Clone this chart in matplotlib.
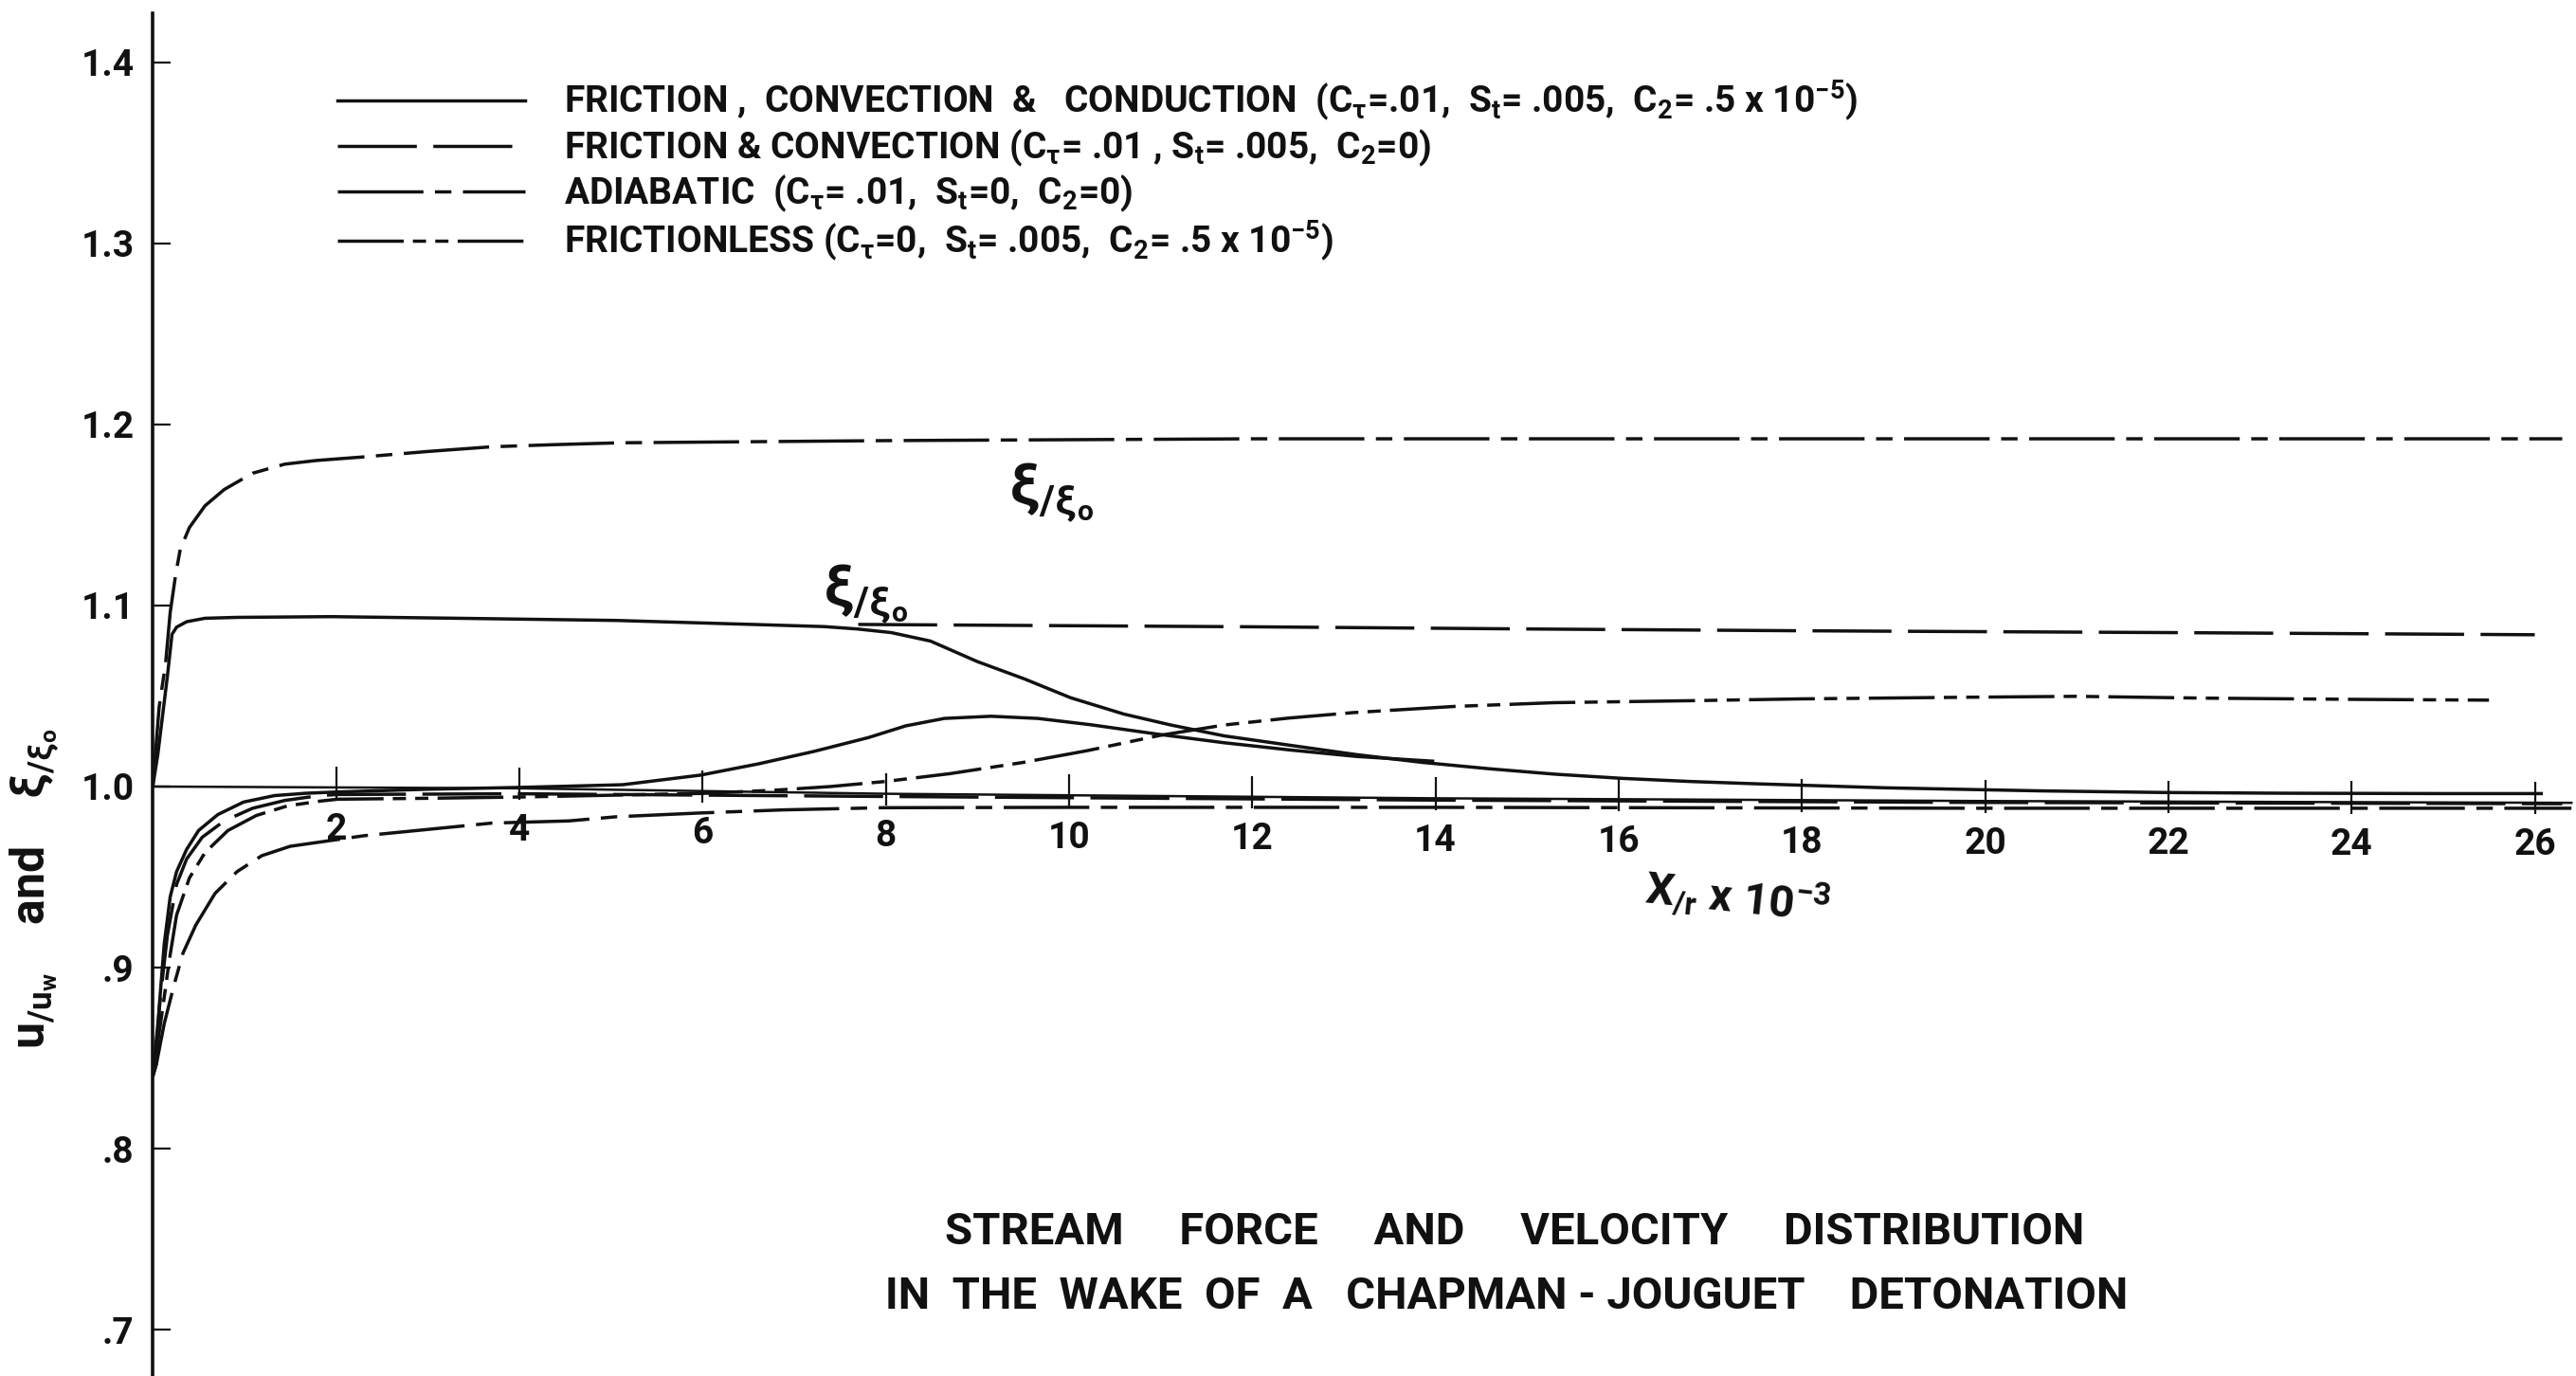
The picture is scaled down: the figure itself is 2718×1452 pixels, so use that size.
import numpy as np
import matplotlib
matplotlib.use('Agg')
import matplotlib.pyplot as plt
from matplotlib import font_manager

# Fuente parecida al rotulado a mano
nombres = {f.name for f in font_manager.fontManager.ttflist}
fuente = 'DejaVu Sans'
for cand in ['Roboto', 'Liberation Sans Narrow']:
    if cand in nombres:
        fuente = cand
        break
plt.rcParams['font.family'] = [fuente, 'DejaVu Sans']
plt.rcParams['font.weight'] = 'bold'
plt.rcParams['mathtext.fontset'] = 'custom'
plt.rcParams['mathtext.rm'] = fuente + ':bold'
plt.rcParams['mathtext.it'] = fuente + ':italic:bold'
plt.rcParams['mathtext.default'] = 'regular'

# ---- datos ----
# xi/xi0 (fuerza de corriente)
x_xi_adiabatico = [0.0, 0.07, 0.14, 0.19, 0.25, 0.30, 0.40, 0.57, 0.78, 1.09, 1.44, 1.78,
                   2.3, 3.0, 3.7, 4.4, 5.1, 8.0, 12.0, 20.0, 26.3]
xi_adiabatico = [1.0, 1.044, 1.068, 1.096, 1.117, 1.131, 1.143, 1.155, 1.164, 1.173, 1.178, 1.180,
                 1.182, 1.185, 1.1876, 1.1888, 1.1898, 1.191, 1.192, 1.192, 1.192]

x_xi_fcc = [0.0, 0.056, 0.16, 0.21, 0.26, 0.37, 0.57, 0.92, 1.95, 3.33, 5.06, 6.61, 7.33, 7.69,
            8.06, 8.49, 9.0, 9.51, 10.02, 10.6, 11.11, 11.69, 12.41, 13.14, 13.86, 14.59, 15.31,
            16.04, 16.77, 17.5, 18.9, 20.6, 21.95, 23.25, 25.0, 26.07]
xi_fcc = [1.0, 1.018, 1.061, 1.084, 1.088, 1.091, 1.0929, 1.0934, 1.0938, 1.0929, 1.0917, 1.0894,
          1.0883, 1.087, 1.085, 1.0803, 1.069, 1.0595, 1.049, 1.040, 1.034, 1.028, 1.0228, 1.0176,
          1.0133, 1.0098, 1.0068, 1.0045, 1.0028, 1.0015, 0.9993, 0.9976, 0.9967, 0.9963, 0.9961,
          0.9961]

x_xi_fc = [7.7, 10.0, 12.0, 15.0, 18.0, 22.0, 26.0]
xi_fc = [1.0895, 1.0888, 1.0882, 1.087, 1.086, 1.085, 1.0838]

# u/uw (velocidad)
x_u_fcc = [0.0, 0.04, 0.07, 0.125, 0.19, 0.26, 0.37, 0.5, 0.71, 0.99, 1.33, 1.68, 2.02, 3.0, 4.0,
           4.54, 5.13, 5.98, 6.61, 7.21, 7.81, 8.22, 8.64, 9.15, 9.66, 10.24, 10.97, 11.69, 12.41,
           13.14, 13.97]
u_fcc = [0.840, 0.847, 0.878, 0.913, 0.939, 0.953, 0.9653, 0.9757, 0.9845, 0.9914, 0.995, 0.9963,
         0.997, 0.9985, 0.9995, 1.0002, 1.001, 1.0063, 1.0125, 1.0193, 1.027, 1.0335, 1.0376,
         1.0388, 1.0376, 1.0341, 1.0289, 1.0242, 1.0202, 1.0166, 1.014]

x_u_fc = [0.0, 0.09, 0.16, 0.26, 0.37, 0.54, 0.78, 1.09, 1.44, 1.82, 2.02, 4.0, 8.0, 14.0, 20.0, 26.3]
u_fc = [0.840, 0.887, 0.918, 0.946, 0.960, 0.972, 0.981, 0.988, 0.9923, 0.995, 0.9956, 0.996,
        0.9945, 0.9925, 0.9912, 0.9905]

x_u_adiabatico = [0.0, 0.04, 0.125, 0.23, 0.33, 0.47, 0.68, 0.92, 1.19, 1.5, 1.82, 2.3, 3.0, 3.7,
                  4.54, 5.06, 5.98, 6.88, 7.97, 10.0, 14.0, 20.0, 26.4]
u_adiabatico = [0.840, 0.8468, 0.869, 0.890, 0.908, 0.9235, 0.941, 0.953, 0.9618, 0.967, 0.9693,
                0.9728, 0.9763, 0.9798, 0.981, 0.9833, 0.9854, 0.9871, 0.9883, 0.9885, 0.9885,
                0.988, 0.988]

x_u_sin_friccion = [0.0, 0.11, 0.18, 0.26, 0.40, 0.57, 0.82, 1.13, 1.47, 1.82, 2.02, 3.0, 4.0, 5.0,
                    6.0, 6.8, 7.4, 8.0, 8.7, 9.5, 10.2, 11.0, 11.7, 12.4, 13.1, 14.2, 15.3, 16.8,
                    18.0, 19.8, 21.0, 22.4, 24.1, 25.5]
u_sin_friccion = [0.840, 0.878, 0.904, 0.929, 0.9495, 0.9635, 0.9757, 0.984, 0.9893, 0.9919, 0.993,
                  0.9935, 0.9942, 0.9952, 0.9962, 0.998, 1.0, 1.0028, 1.0071, 1.0133, 1.0198,
                  1.0283, 1.034, 1.0378, 1.0408, 1.0442, 1.0463, 1.0474, 1.0484, 1.0493, 1.0498,
                  1.0488, 1.0481, 1.0477]

# linea de referencia (eje x dibujado a mano, algo inclinado)
eje_x = [0.0, 4.0, 8.0, 14.0, 20.0, 26.4]
eje_y = [1.0, 0.999, 0.996, 0.9935, 0.992, 0.991]
marcas_x = [2, 4, 6, 8, 10, 12, 14, 16, 18, 20, 22, 24, 26]

marcas_y = [0.7, 0.8, 0.9, 1.0, 1.1, 1.2, 1.3, 1.4]
etiquetas_y = ['.7', '.8', '.9', '1.0', '1.1', '1.2', '1.3', '1.4']

etiquetas_leyenda = [
    r'FRICTION ,  CONVECTION  &   CONDUCTION  ($C_\tau$=.01,  $S_t$= .005,  $C_2$= .5 x 10$^{-5}$)',
    r'FRICTION & CONVECTION ($C_\tau$= .01 , $S_t$= .005,  $C_2$=0)',
    r'ADIABATIC  ($C_\tau$= .01,  $S_t$=0,  $C_2$=0)',
    r'FRICTIONLESS ($C_\tau$=0,  $S_t$= .005,  $C_2$= .5 x 10$^{-5}$)',
]

# estilos de linea
continua = '-'
raya_larga = (0, (24, 5))
raya_punto = (0, (26, 3.5, 5, 3.5))
raya_dos_puntos = (0, (20, 2.8, 4, 2.8, 4, 2.8))

negro = '#111111'
lw = 2.5

fig = plt.figure(figsize=(27.18, 14.52), dpi=100)
ax = fig.add_axes([0.0593, 0.0, 0.9407, 1.0])
ax.set_xlim(0, 26.45)
ax.set_ylim(0.6745, 1.4343)

l1, = ax.plot(x_xi_fcc, xi_fcc, color=negro, lw=lw, ls=continua)
ax.plot(x_u_fcc, u_fcc, color=negro, lw=lw, ls=continua)
l2, = ax.plot(x_xi_fc, xi_fc, color=negro, lw=lw, ls=raya_larga)
ax.plot(x_u_fc, u_fc, color=negro, lw=lw, ls=raya_larga)
l3, = ax.plot(x_xi_adiabatico, xi_adiabatico, color=negro, lw=lw, ls=raya_punto)
ax.plot(x_u_adiabatico, u_adiabatico, color=negro, lw=lw, ls=raya_punto)
l4, = ax.plot(x_u_sin_friccion, u_sin_friccion, color=negro, lw=lw, ls=raya_dos_puntos)

# eje x como linea de referencia con sus marcas
ax.plot(eje_x, eje_y, color=negro, lw=1.8)
base = np.interp(marcas_x, eje_x, eje_y)
ax.vlines(marcas_x, base - 0.0065, base + 0.0115, color=negro, lw=1.6)
for xm, yb in zip(marcas_x, base):
    ax.text(xm, yb - 0.0235, str(xm), ha='center', va='center', fontsize=28, color=negro)

# eje y
for lado in ['top', 'right', 'bottom']:
    ax.spines[lado].set_visible(False)
ax.spines['left'].set_linewidth(2.6)
ax.spines['left'].set_color(negro)
ax.spines['left'].set_bounds(0.6745, 1.427)
ax.set_xticks([])
ax.set_yticks(marcas_y)
ax.set_yticklabels(etiquetas_y)
ax.tick_params(axis='y', direction='in', length=14, width=1.6, pad=14, labelsize=28,
               colors=negro)

# leyenda
ax.legend([l1, l2, l3, l4], etiquetas_leyenda, loc='upper left',
          bbox_to_anchor=(0.131, 0.943), bbox_transform=fig.transFigure,
          frameon=False, fontsize=28, handlelength=5.1, handletextpad=1.05,
          labelspacing=0.12, borderpad=0, borderaxespad=0, labelcolor=negro)

# rotulos
ax.text(9.81, 1.162, r'$\xi_{/\xi_o}$', fontsize=44, ha='center', va='center', color=negro)
ax.text(7.78, 1.106, r'$\xi_{/\xi_o}$', fontsize=44, ha='center', va='center', color=negro)
ax.text(17.3, 0.9385, r'$X_{/r}$ x 10$^{-3}$', fontsize=34, ha='center', va='center',
        rotation=-6, color=negro)
fig.text(0.0135, 0.354, r'$u_{/u_w}$    and    $\xi_{/\xi_o}$', rotation=90,
         fontsize=36, ha='center', va='center', color=negro)

fig.text(0.588, 0.105, 'STREAM     FORCE     AND     VELOCITY     DISTRIBUTION',
         fontsize=34, ha='center', va='center', color=negro)
fig.text(0.585, 0.058, 'IN  THE  WAKE  OF  A   CHAPMAN - JOUGUET    DETONATION',
         fontsize=34, ha='center', va='center', color=negro)

fig.savefig('out.png', dpi=100, facecolor='white')
